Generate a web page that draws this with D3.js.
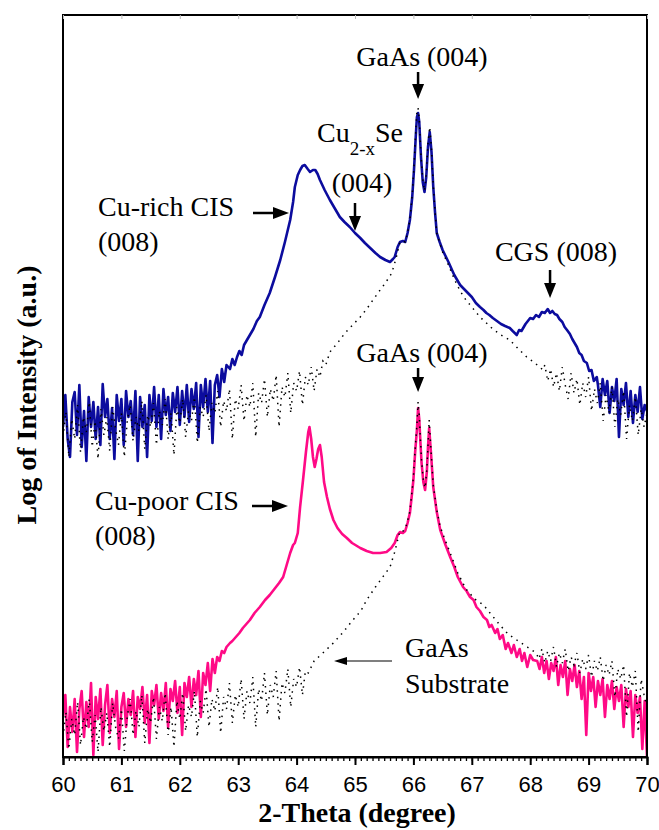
<!DOCTYPE html>
<html><head><meta charset="utf-8">
<script src="https://cdn.jsdelivr.net/npm/d3@7"></script>
<style>body{margin:0;background:#fff}svg{display:block}</style>
</head><body><svg id="c" width="659" height="830"></svg>
<script>
// ---------------- DATA (log intensity, arbitrary units) ----------------
const xTicks = [60,61,62,63,64,65,66,67,68,69,70];
const xTitle = "2-Theta (degree)";
const yTitle = "Log of Intensity (a.u.)";

// Cu-rich CIS sample (blue)
const blueLowX0 = 60, blueLowStep = 0.04;
const blueLow = [330,362,318,300,355,365,322,372,310,346,296,360,330,355,318,350,312,373,340,358,318,349,298,362,336,358,312,366,340,356,322,366,296,360,330,352,300,362,336,370,330,362,318,368,342,360,326,364,345,370,332,366,340,372,335,368,348,374,320,372,350,378,345,376,314,372,382,360,388,375,392];
const blueMid = [[62.86,388],[62.90,398],[62.94,392],[62.98,400],[63.02,406],[63.06,402],[63.10,412],[63.14,416],[63.20,422],[63.26,428],[63.32,436],[63.37,440],[63.45,452],[63.54,464],[63.63,480],[63.72,497],[63.80,515],[63.89,537],[63.94,555],[63.97,570],[64.02,582],[64.06,587],[64.10,591],[64.14,592],[64.19,588],[64.23,585],[64.28,587],[64.32,587],[64.36,583],[64.40,577],[64.48,567],[64.57,557],[64.66,548],[64.74,540],[64.82,535],[64.91,530],[65.00,524],[65.09,519],[65.17,514],[65.26,509],[65.35,504],[65.43,500],[65.52,497],[65.60,495],[65.65,498],[65.68,500],[65.73,510],[65.77,515],[65.82,516],[65.86,515],[65.90,524],[65.94,537],[65.98,560],[66.01,587],[66.04,620],[66.06,640],[66.08,644],[66.10,635],[66.13,600],[66.16,575],[66.19,565],[66.22,580],[66.25,610],[66.28,625],[66.31,605],[66.34,570],[66.37,545],[66.40,524],[66.45,515],[66.50,507],[66.60,495],[66.70,482],[66.80,472],[66.90,466],[67.00,460],[67.07,454],[67.14,450],[67.20,447],[67.25,444],[67.30,442],[67.36,439],[67.43,436],[67.50,433],[67.57,431],[67.65,429],[67.70,426],[67.77,422],[67.81,427],[67.85,426],[67.92,433],[67.96,436],[68.00,439],[68.05,438],[68.10,442],[68.15,440],[68.20,445],[68.25,444],[68.30,448],[68.34,444],[68.38,446],[68.42,443],[68.46,442],[68.50,438],[68.55,435],[68.59,430],[68.63,427],[68.68,423],[68.72,418],[68.76,414],[68.80,410],[68.84,404],[68.88,402],[68.92,396],[68.97,394],[69.01,386],[69.05,387],[69.09,376],[69.14,380]];
const blueHighX0 = 69.16, blueHighStep = 0.04;
const blueHigh = [372,350,378,362,376,344,370,356,378,320,368,352,374,340,366,334,362,345,370,338,352,346];

// Cu-poor CIS sample (pink)
const pinkLowX0 = 60, pinkLowStep = 0.04;
const pinkLow = [40,62,10,50,25,58,5,48,66,20,55,30,74,2,60,38,68,12,52,72,24,58,40,66,8,50,64,30,58,42,66,20,60,48,70,34,62,14,66,52,72,38,64,46,74,30,68,56,76,44,70,22,74,60,80,50,78,62,86,40,84,72,94,66,98,84];
const pinkMid = [[62.64,100],[62.68,96],[62.72,106],[62.76,104],[62.80,110],[62.86,114],[62.90,116],[62.96,120],[63.02,124],[63.08,129],[63.14,133],[63.20,137],[63.28,144],[63.37,150],[63.46,157],[63.54,162],[63.62,168],[63.70,174],[63.77,180],[63.83,192],[63.89,204],[63.94,212],[63.97,214],[64.00,220],[64.02,224],[64.06,250],[64.11,277],[64.16,305],[64.20,325],[64.22,330],[64.25,318],[64.28,300],[64.31,290],[64.34,298],[64.37,308],[64.40,312],[64.43,300],[64.47,275],[64.52,260],[64.57,248],[64.63,237],[64.70,229],[64.78,223],[64.86,219],[64.95,214],[65.09,209],[65.20,206],[65.31,204],[65.43,204],[65.54,205],[65.62,209],[65.68,214],[65.73,222],[65.77,225],[65.82,224],[65.86,226],[65.90,234],[65.94,244],[65.97,260],[66.00,277],[66.03,305],[66.06,327],[66.08,349],[66.10,338],[66.12,315],[66.14,294],[66.17,275],[66.20,267],[66.23,285],[66.25,310],[66.27,329],[66.30,305],[66.34,270],[66.40,245],[66.46,227],[66.55,212],[66.63,200],[66.70,190],[66.76,180],[66.85,170],[66.91,166],[66.97,160],[67.03,157],[67.08,150],[67.14,146],[67.20,140],[67.26,137],[67.30,130],[67.34,132],[67.40,124],[67.44,128],[67.48,118],[67.53,122],[67.58,108],[67.62,114],[67.68,104],[67.72,112],[67.77,100],[67.82,108],[67.86,96],[67.90,104],[67.95,90],[68.00,102],[68.05,97]];
const pinkHighX0 = 68.12, pinkHighStep = 0.04;
const pinkHigh = [96,88,100,84,96,78,94,86,100,72,92,80,96,62,88,76,92,70,86,58,80,22,84,66,80,50,76,62,78,40,72,58,76,48,70,56,72,30,68,50,66,20,62,44,60,8,56,0];

// GaAs substrate reference, upper (dotted)
const subALowX0 = 60, subALowStep = 0.05;
const subALow = [320,345,300,338,318,352,305,340,325,355,310,336,298,348,322,340,306,350,328,312,344,300,336,352,316,340,326,356,308,342,330,354,312,346,332,358,318,344,302,350,334,358,320,346,336,360,314,350,340,362,326,354,344,366,330,356,346,368,318,358,348,372,336,362,350,374,320,364,354,378,340,368,356,382,330,370,360,384,344,374,366,386,352,380,372,390,366,388,380,396,392];
const subAMid = [[64.57,405],[64.70,414],[64.83,424],[64.96,432],[65.09,440],[65.20,448],[65.32,458],[65.43,467],[65.52,474],[65.63,484],[65.70,498],[65.77,515],[65.82,516],[65.86,515],[65.90,524],[65.94,537],[65.98,562],[66.01,590],[66.04,625],[66.06,645],[66.08,649],[66.10,638],[66.13,602],[66.16,578],[66.19,566],[66.22,582],[66.25,614],[66.28,630],[66.31,608],[66.34,572],[66.37,546],[66.40,524],[66.45,514],[66.50,505],[66.60,492],[66.70,478],[66.80,466],[66.90,457],[67.00,450],[67.14,440],[67.25,434],[67.36,428],[67.50,422],[67.65,417],[67.80,408],[67.94,400],[68.08,394],[68.22,387]];
const subAHighX0 = 68.25, subAHighStep = 0.05;
const subAHigh = [392,376,388,370,384,366,390,372,358,384,364,378,352,374,360,380,346,368,354,374,336,362,344,370,330,358,342,366,318,352,336,360,322,348,330,344];

// GaAs substrate reference, lower (dotted)
const subBLowX0 = 60, subBLowStep = 0.05;
const subBLow = [20,45,8,38,22,55,12,40,28,58,15,42,5,50,26,44,10,54,30,18,48,6,40,58,22,46,30,62,14,48,34,60,18,50,36,64,22,50,10,56,38,64,26,52,40,66,20,56,44,68,30,58,46,70,24,60,48,74,34,62,50,78,38,66,54,80,30,68,56,84,42,72,60,86,36,74,64,88,50,78,70,90,62,86,84];
const subBMid = [[64.30,96],[64.45,104],[64.63,114],[64.80,125],[64.95,136],[65.10,146],[65.20,157],[65.35,170],[65.50,182],[65.60,190],[65.68,205],[65.73,217],[65.77,226],[65.82,226],[65.86,228],[65.90,236],[65.94,246],[65.97,262],[66.00,280],[66.03,308],[66.06,332],[66.08,355],[66.10,342],[66.12,318],[66.14,296],[66.17,277],[66.20,269],[66.23,287],[66.25,312],[66.27,337],[66.30,308],[66.34,272],[66.40,247],[66.46,230],[66.55,216],[66.63,204],[66.76,184],[66.90,168],[67.05,158],[67.20,152],[67.34,142],[67.48,132],[67.62,123],[67.77,117],[67.95,110],[68.10,104]];
const subBHighX0 = 68.15, subBHighStep = 0.05;
const subBHigh = [98,108,94,106,96,110,90,104,94,108,86,100,92,104,84,98,88,102,80,96,86,100,76,92,82,96,60,88,78,92,40,84,70,86,25,78,62,50];

// ---------------- CHART ----------------
const M = {left: 63, right: 647, top: 15, bottom: 757};
const svg = d3.select("#c");
const x = d3.scaleLinear().domain([60, 70]).range([M.left, M.right]);
const y = d3.scaleLinear().domain([0, 742]).range([M.bottom, M.top]);
const serif = "'Liberation Serif', 'Times New Roman', serif";
const sans = "'Liberation Sans', Arial, sans-serif";

function seg(x0, step, vals) { return vals.map((v, i) => [x0 + i * step, v]); }
const blue = [...seg(blueLowX0, blueLowStep, blueLow), ...blueMid, ...seg(blueHighX0, blueHighStep, blueHigh)];
const pink = [...seg(pinkLowX0, pinkLowStep, pinkLow), ...pinkMid, ...seg(pinkHighX0, pinkHighStep, pinkHigh)];
const subA = [...seg(subALowX0, subALowStep, subALow), ...subAMid, ...seg(subAHighX0, subAHighStep, subAHigh)];
const subB = [...seg(subBLowX0, subBLowStep, subBLow), ...subBMid, ...seg(subBHighX0, subBHighStep, subBHigh)];

svg.append("defs").append("clipPath").attr("id", "clip")
  .append("rect").attr("x", M.left).attr("y", M.top)
  .attr("width", M.right - M.left).attr("height", M.bottom - M.top);

const line = d3.line().x(d => x(d[0])).y(d => y(d[1]));
const g = svg.append("g").attr("clip-path", "url(#clip)");
g.append("path").datum(blue).attr("d", line).attr("fill", "none")
  .attr("stroke", "#0c0c9e").attr("stroke-width", 2.6).attr("stroke-linejoin", "round");
g.append("path").datum(pink).attr("d", line).attr("fill", "none")
  .attr("stroke", "#ff0a86").attr("stroke-width", 2.6).attr("stroke-linejoin", "round");
[subA, subB].forEach(s => {
  g.append("path").datum(s).attr("d", line).attr("fill", "none")
    .attr("stroke", "#000").attr("stroke-width", 1.5).attr("stroke-dasharray", "1.5,5");
});

// Frame
svg.append("rect").attr("x", M.left).attr("y", M.top)
  .attr("width", M.right - M.left).attr("height", M.bottom - M.top)
  .attr("fill", "none").attr("stroke", "#000").attr("stroke-width", 2);

// Top faint ticks
svg.append("g").attr("transform", `translate(0,${M.top})`)
  .call(d3.axisBottom(x).tickValues(xTicks).tickSize(4).tickFormat(""))
  .call(a => a.select(".domain").remove())
  .call(a => a.selectAll("line").attr("stroke", "#bbb"));

// Bottom axis: minor + major
const minor = d3.range(0, 101).map(i => 60 + i * 0.1);
svg.append("g").attr("transform", `translate(0,${M.bottom})`)
  .call(d3.axisBottom(x).tickValues(minor).tickSize(4).tickFormat(""))
  .call(a => a.select(".domain").remove())
  .call(a => a.selectAll("line").attr("stroke", "#000").attr("stroke-width", 1.3));
const ax = svg.append("g").attr("transform", `translate(0,${M.bottom})`)
  .call(d3.axisBottom(x).tickValues(xTicks).tickSize(8).tickPadding(11).tickFormat(d3.format("d")));
ax.select(".domain").attr("stroke", "#000").attr("stroke-width", 2);
ax.selectAll("line").attr("stroke", "#000").attr("stroke-width", 2);
ax.selectAll("text").attr("font-family", sans).attr("font-size", 22).attr("fill", "#000");

// Axis titles
svg.append("text").attr("x", (M.left + M.right) / 2 + 2).attr("y", 822)
  .attr("text-anchor", "middle").attr("font-family", serif)
  .attr("font-weight", "bold").attr("font-size", 28).text(xTitle);
svg.append("text").attr("transform", "translate(36,395) rotate(-90)")
  .attr("text-anchor", "middle").attr("font-family", serif)
  .attr("font-weight", "bold").attr("font-size", 28).text(yTitle);

// Annotations
function txt(s, px, py, anchor) {
  return svg.append("text").attr("x", px).attr("y", py).attr("text-anchor", anchor || "start")
    .style("font-family", serif).attr("font-size", 28).attr("fill", "#000").text(s);
}
function arrow(x1, y1, x2, y2, hl, hw, sw) {
  const dx = x2 - x1, dy = y2 - y1, L = Math.hypot(dx, dy), ux = dx / L, uy = dy / L;
  const bx = x2 - ux * hl, by = y2 - uy * hl;
  svg.append("line").attr("x1", x1).attr("y1", y1).attr("x2", bx).attr("y2", by)
    .attr("stroke", "#000").attr("stroke-width", sw);
  svg.append("path").attr("d", `M${x2},${y2}L${bx - uy * hw / 2},${by + ux * hw / 2}L${bx + uy * hw / 2},${by - ux * hw / 2}Z`)
    .attr("fill", "#000");
}

// upper panel
txt("GaAs (004)", 422, 66, "middle");
arrow(x(66.08), 72, x(66.08), 99, 15, 12, 2.5);
const cu = txt("Cu", 317, 142);
cu.append("tspan").attr("font-size", 19).attr("dy", 13).text("2-x");
cu.append("tspan").attr("dy", -13).text("Se");
txt("(004)", 362, 192, "middle");
arrow(x(65.0), 203, x(65.0), 231, 15, 12, 2.5);
txt("Cu-rich CIS", 98, 216);
txt("(008)", 98, 251);
arrow(253, 213, 289, 213, 16, 12, 2.5);
txt("CGS (008)", 556, 261, "middle");
arrow(x(68.34), 270, x(68.34), 298, 15, 12, 2.5);

// lower panel
txt("GaAs (004)", 422, 362, "middle");
arrow(x(66.08), 368, x(66.08), 392, 15, 12, 2.5);
txt("Cu-poor CIS", 95, 510);
txt("(008)", 95, 545);
arrow(252, 506, 288, 506, 16, 12, 2.5);
txt("GaAs", 405, 657);
txt("Substrate", 405, 693);
arrow(392, 661, 334, 661, 13, 8, 1.2);
</script>
</body></html>
